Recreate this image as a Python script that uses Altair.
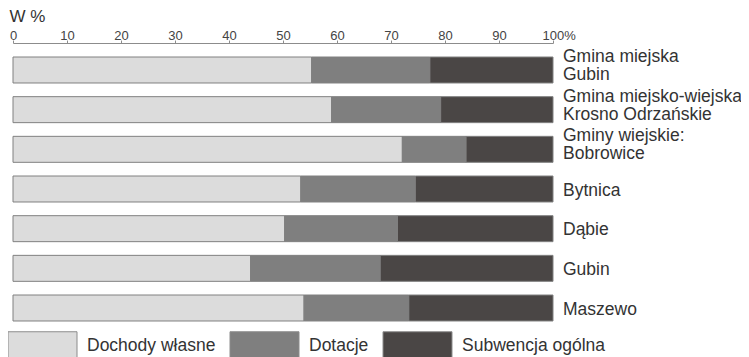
import altair as alt
import pandas as pd

categories = [
    "Gmina miejska|Gubin",
    "Gmina miejsko-wiejska|Krosno Odrzańskie",
    "Gminy wiejskie:|Bobrowice",
    "Bytnica",
    "Dąbie",
    "Gubin",
    "Maszewo",
]
series = ["Dochody własne", "Dotacje", "Subwencja ogólna"]
dochody_wlasne = [55.3, 59.0, 72.1, 53.3, 50.3, 44.0, 53.9]
dotacje = [21.9, 20.2, 11.8, 21.2, 20.9, 24.0, 19.4]
subwencja = [22.8, 20.8, 16.1, 25.5, 28.8, 32.0, 26.7]
colors = ["#dcdcdc", "#7f7f7f", "#4a4645"]
x_ticks = [0, 10, 20, 30, 40, 50, 60, 70, 80, 90, 100]

rows = []
for i, c in enumerate(categories):
    for j, (s, vals) in enumerate(zip(series, [dochody_wlasne, dotacje, subwencja])):
        rows.append({"cat": c, "series": s, "value": vals[i], "ord": j})
df = pd.DataFrame(rows)

FONT = "Liberation Sans"

chart = alt.Chart(df).mark_bar(stroke="#808080", strokeWidth=1).encode(
    x=alt.X(
        "value:Q",
        stack="zero",
        scale=alt.Scale(domain=[0, 100], nice=False),
        axis=alt.Axis(
            orient="top",
            values=x_ticks,
            title="W %",
            titleFont=FONT,
            titleFontSize=17,
            titleFontWeight="normal",
            titleColor="#333333",
            titleAlign="left",
            titleBaseline="alphabetic",
            titleAngle=0,
            titleX=-4,
            titleY=-21.5,
            grid=False,
            domainColor="#8c8c8c",
            tickColor="#8c8c8c",
            tickSize=3,
            labelFont=FONT,
            labelFontSize=13,
            labelColor="#444444",
            labelBaseline="alphabetic",
            labelPadding=1,
            labelFlush=False,
            labelExpr="datum.value == 100 ? '100%' : datum.label",
            labelAlign={"condition": {"test": "datum.value == 100", "value": "left"}, "value": "center"},
            labelOffset={"condition": {"test": "datum.value == 100", "value": -11}, "value": 0},
        ),
    ),
    y=alt.Y(
        "cat:N",
        sort=categories,
        scale=alt.Scale(paddingInner=0.345, paddingOuter=0.353),
        axis=alt.Axis(
            orient="right",
            title=None,
            domain=False,
            ticks=False,
            tickSize=0,
            labelPadding=9.5,
            labelFont=FONT,
            labelFontSize=17.5,
            labelColor="#333333",
            labelLineHeight=18,
            labelBaseline="middle",
            labelAlign="left",
            labelLimit=0,
            labelExpr="split(datum.label, '|')",
            labelOffset={"condition": {"test": "indexof(datum.label, '|') >= 0", "value": -13}, "value": 1.5},
        ),
    ),
    color=alt.Color(
        "series:N",
        sort=series,
        scale=alt.Scale(domain=series, range=colors),
        legend=alt.Legend(
            orient="none",
            legendX=-5.5,
            legendY=268,
            direction="horizontal",
            title=None,
            padding=0,
            symbolType="M-1,-0.42H1V0.42H-1Z",
            symbolSize=4761,
            symbolStrokeColor="#8c8c8c",
            symbolStrokeWidth=1,
            symbolOpacity=1,
            labelFont=FONT,
            labelFontSize=17.5,
            labelColor="#333333",
            labelOffset=9.5,
            labelLimit=0,
            columnPadding=12,
        ),
    ),
    order=alt.Order("ord:Q"),
).properties(
    width=540,
    height=292,
    autosize=alt.AutoSizeParams(type="none"),
    padding={"left": 5, "top": 35, "right": 188, "bottom": 22},
    background="white",
).configure_view(stroke=None)

chart.save("out.html", embed_options={"renderer": "svg", "actions": False})
